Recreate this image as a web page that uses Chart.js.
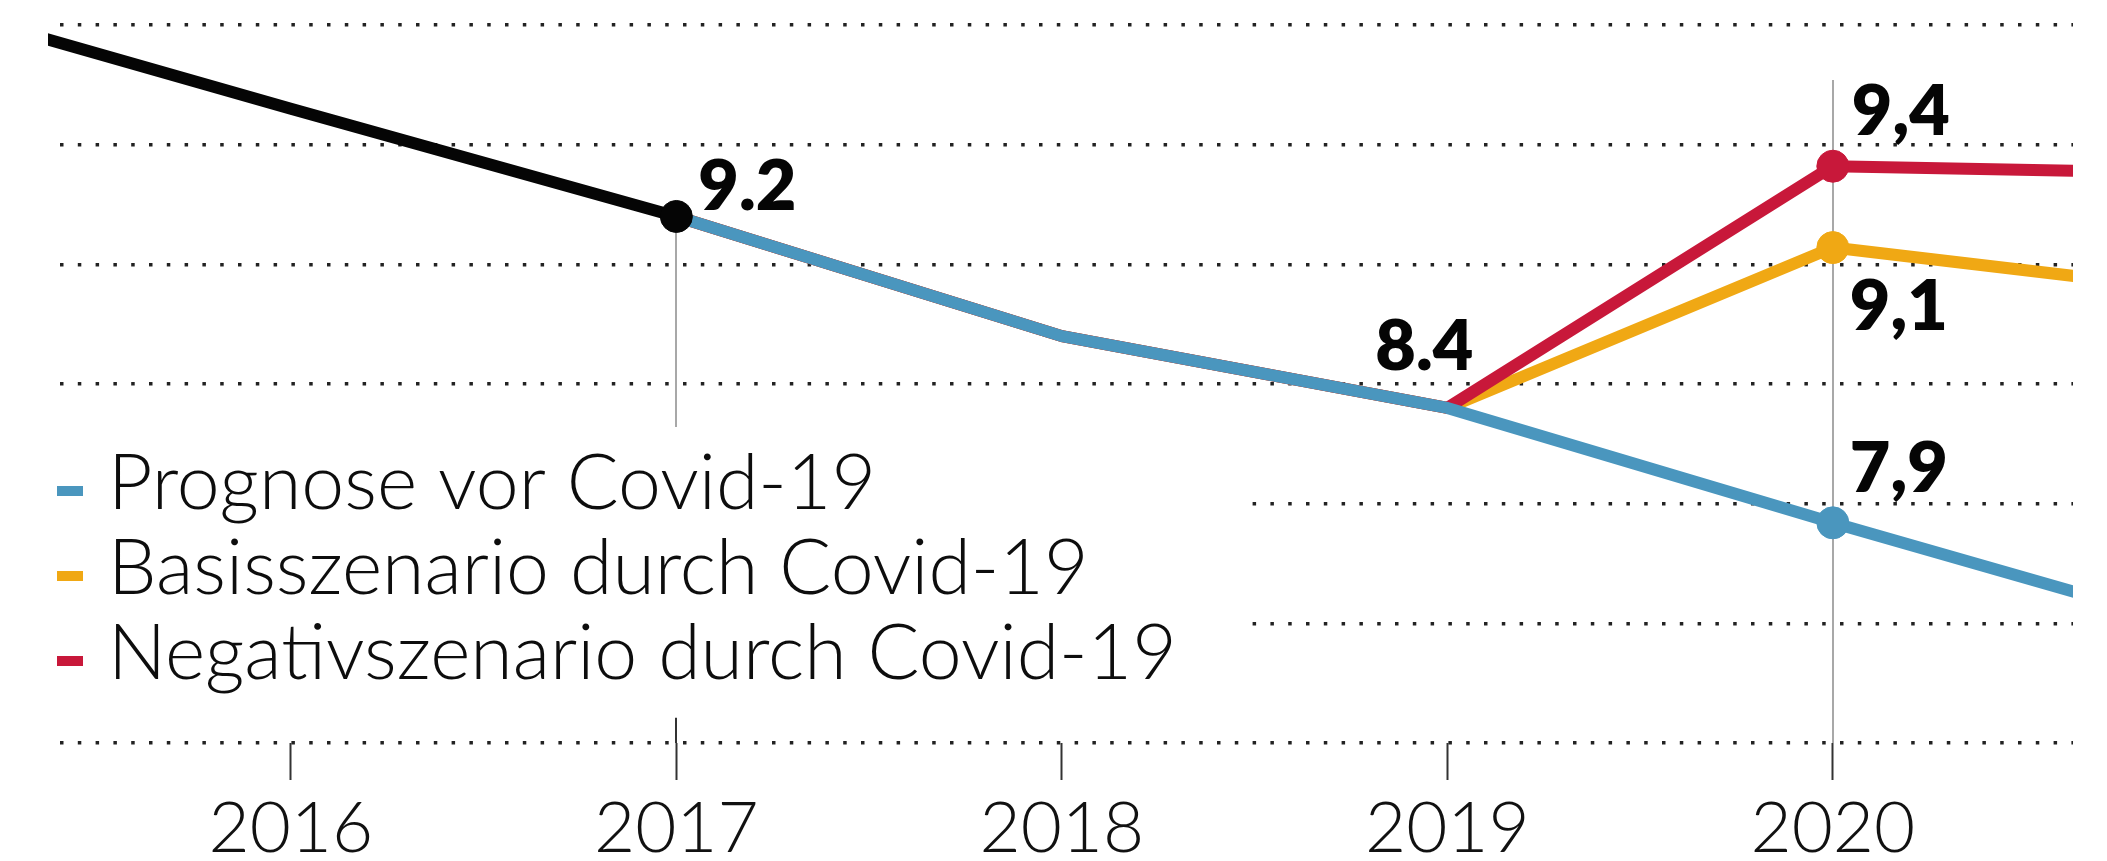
<!DOCTYPE html>
<html>
<head>
<meta charset="utf-8">
<script src="https://cdn.jsdelivr.net/npm/chart.js"></script>
<style>
  html, body { margin: 0; padding: 0; background: #ffffff; }
  #wrap { width: 2107px; height: 861px; }
  canvas { display: block; }
</style>
</head>
<body>
<div id="wrap"><canvas id="c" width="2107" height="861"></canvas></div>
<script>
// ---------- data ----------
const years      = [2015, 2016, 2017, 2018, 2019, 2020, 2021];
const tickYears  = [2016, 2017, 2018, 2019, 2020];
const gridValues = [7.0, 7.5, 8.0, 8.5, 9.0, 9.5, 10.0];

const historie  = [10.11, 9.65, 9.2, null, null, null, null];
const prognose  = [null, null, 9.2, 8.70, 8.40, 7.92, 7.46];
const basis     = [null, null, 9.2, 8.70, 8.40, 9.07, 8.88];
const negativ   = [null, null, 9.2, 8.70, 8.40, 9.41, 9.38];

const seriesNames = ['Prognose vor Covid-19', 'Basisszenario durch Covid-19', 'Negativszenario durch Covid-19'];

// labelled points: [series key, year, text]
const pointLabels = [
  ['historie', 2017, '9.2'],
  ['negativ',  2020, '9,4'],
  ['basis',    2020, '9,1'],
  ['prognose', 2020, '7,9'],
  ['prognose', 2019, '8.4']
];
// years that carry a dot marker per series
const markedYears = { historie: [2017], prognose: [2020], basis: [2020], negativ: [2020] };

// ---------- styling ----------
const COLORS = { historie: '#050505', prognose: '#4a96be', basis: '#f0a814', negativ: '#c8183a' };
const FONT = 'Lato, "Open Sans", "DejaVu Sans", sans-serif';

function toPoints(arr) {
  return years.map((y, i) => ({ x: y, y: arr[i] }));
}
function makeSet(key, label, arr) {
  return {
    key: key,
    label: label,
    data: toPoints(arr),
    borderColor: COLORS[key],
    backgroundColor: COLORS[key],
    borderWidth: 12,
    borderCapStyle: 'butt',
    borderJoinStyle: 'round',
    tension: 0,
    spanGaps: false,
    clip: 0,
    pointRadius: (ctx) => (ctx.raw && markedYears[key].includes(ctx.raw.x) && ctx.raw.y != null) ? 16 : 0,
    pointHoverRadius: 0,
    pointBorderWidth: 1,
    pointBorderColor: COLORS[key],
    pointBackgroundColor: COLORS[key]
  };
}

// label offsets relative to the point pixel (text left edge / baseline)
const labelOffsets = {
  'historie-2017': [22, -6],
  'negativ-2020':  [19, -31],
  'basis-2020':    [17, 82],
  'prognose-2020': [17, -31],
  'prognose-2019': [-72, -38]
};

// thin vertical rules [year, fromValue, toValue]
const rules = [[2017, 9.2, 8.32], [2020, 9.77, 7.0]];

const legendBoxPlugin = {
  id: 'legendBox',
  beforeDatasetsDraw(chart) {
    const ctx = chart.ctx;
    ctx.save();
    // white box that hides the grid behind the legend
    ctx.fillStyle = '#ffffff';
    ctx.fillRect(40, 440, 1205, 262);
    const order = ['prognose', 'basis', 'negativ'];
    const baselines = [509, 594, 679];
    ctx.font = '300 77px ' + FONT;
    ctx.textBaseline = 'alphabetic';
    ctx.textAlign = 'left';
    order.forEach((key, i) => {
      const ds = chart.data.datasets.find(d => d.key === key);
      ctx.fillStyle = ds.borderColor;
      ctx.fillRect(57, baselines[i] - 23, 26, 10);
      ctx.fillStyle = '#0d0d0d';
      ctx.fillText(ds.label, 108, baselines[i]);
    });
    ctx.restore();
  }
};

const rulesPlugin = {
  id: 'rules',
  beforeDatasetsDraw(chart) {
    const ctx = chart.ctx, xs = chart.scales.x, ys = chart.scales.y;
    ctx.save();
    ctx.strokeStyle = '#a8a8a8';
    ctx.lineWidth = 2;
    rules.forEach(([yr, a, b]) => {
      const x = Math.round(xs.getPixelForValue(yr));
      ctx.beginPath();
      ctx.moveTo(x, ys.getPixelForValue(a));
      ctx.lineTo(x, ys.getPixelForValue(b));
      ctx.stroke();
    });
    // longer tick for 2017 reaching above the base line
    const x17 = Math.round(xs.getPixelForValue(2017));
    ctx.strokeStyle = '#333333';
    ctx.beginPath();
    ctx.moveTo(x17, ys.getPixelForValue(7.105));
    ctx.lineTo(x17, ys.getPixelForValue(7.0));
    ctx.stroke();
    ctx.restore();
  }
};

const valueLabelPlugin = {
  id: 'valueLabels',
  afterDatasetsDraw(chart) {
    const ctx = chart.ctx, xs = chart.scales.x, ys = chart.scales.y;
    ctx.save();
    ctx.font = '800 70px ' + FONT;
    ctx.fillStyle = '#050505';
    ctx.textAlign = 'left';
    ctx.textBaseline = 'alphabetic';
    pointLabels.forEach(([key, yr, text]) => {
      const ds = chart.data.datasets.find(d => d.key === key);
      const pt = ds.data.find(p => p.x === yr);
      const off = labelOffsets[key + '-' + yr];
      ctx.fillText(text, xs.getPixelForValue(pt.x) + off[0], ys.getPixelForValue(pt.y) + off[1]);
    });
    ctx.restore();
  }
};

function build() {
  new Chart(document.getElementById('c'), {
    type: 'line',
    data: {
      datasets: [
        makeSet('historie', 'Historie', historie),
        makeSet('prognose', seriesNames[0], prognose),
        makeSet('negativ',  seriesNames[2], negativ),
        makeSet('basis',    seriesNames[1], basis)
      ]
    },
    options: {
      responsive: false,
      animation: false,
      devicePixelRatio: 1,
      layout: { padding: { left: 48, right: 34, top: 25, bottom: 0 } },
      plugins: { legend: { display: false }, tooltip: { enabled: false } },
      events: [],
      scales: {
        x: {
          type: 'linear',
          min: 2015.37,
          max: 2020.623,
          afterBuildTicks: (s) => { s.ticks = tickYears.map(v => ({ value: v })); },
          afterFit: (s) => { s.height = 118; },
          grid: {
            drawOnChartArea: false,
            drawTicks: true,
            tickLength: 37,
            tickColor: '#333333',
            tickWidth: 2
          },
          border: { display: false },
          ticks: {
            callback: (v) => String(v),
            color: '#111111',
            padding: 7,
            maxRotation: 0,
            autoSkip: false,
            font: { family: FONT, size: 71, weight: '300' }
          }
        },
        y: {
          type: 'linear',
          min: 7.0,
          max: 10.0,
          afterBuildTicks: (s) => { s.ticks = gridValues.map(v => ({ value: v })); },
          afterFit: (s) => { s.width = 0; },
          grid: { color: '#222222', lineWidth: 3.5, drawTicks: false },
          border: { display: false, dash: [3.5, 14.3], dashOffset: -12 },
          ticks: { display: false }
        }
      }
    },
    plugins: [legendBoxPlugin, rulesPlugin, valueLabelPlugin]
  });
}

const fontLoads = ['300 71px Lato', '300 77px Lato', '800 70px Lato'].map(f => document.fonts.load(f).catch(() => null));
Promise.race([Promise.all(fontLoads), new Promise(r => setTimeout(r, 1500))]).then(build);
</script>
</body>
</html>
